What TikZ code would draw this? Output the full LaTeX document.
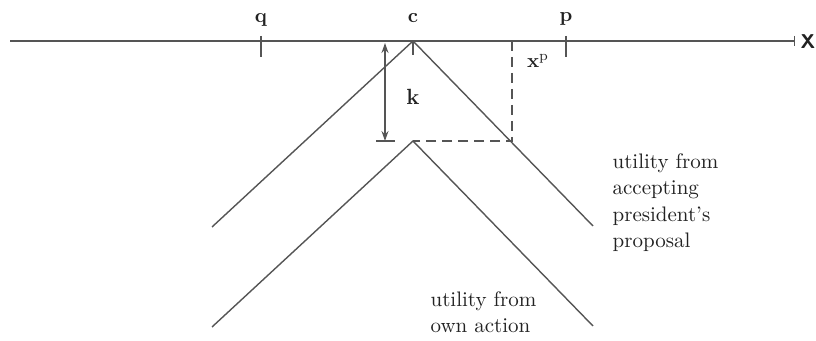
\documentclass[tikz,border=0pt]{standalone}
\usetikzlibrary{arrows.meta, positioning, calc}
\definecolor{cline}{HTML}{555555}
\definecolor{ctext}{HTML}{222222}
\tikzset{
  every picture/.style={line width=0.6pt},
  curve/.style={draw=cline, line width=0.7pt},
  tick/.style={draw=cline, line width=0.7pt},
  guide/.style={draw=cline, dashed, dash pattern=on 5pt off 3pt, line width=0.7pt},
  ptlabel/.style={font=\bfseries\fontsize{10}{12}\selectfont, text=ctext, inner sep=1pt},
  note/.style={font=\fontsize{10.5}{13.2}\selectfont, text=ctext, align=left, inner sep=0pt},
}

\begin{document}
\begin{tikzpicture}[x=0.5pt, y=-0.5pt]
  \useasboundingbox (0,0) rectangle (816,341);
  % policy axis
  \coordinate (xl) at (10,41);
  \coordinate (xr) at (795,41);
  \draw[curve, -{Bar[width=5pt]}] (xl) -- (xr);
  \node[ptlabel, anchor=west, font=\sffamily\bfseries\fontsize{10}{12}\selectfont] (X) at (798,42) {X};
  % ideal points
  \coordinate (q) at (261,41);
  \coordinate (c) at (413,41);
  \coordinate (p) at (566,41);
  \draw[tick] ($(q)+(0,-5)$) -- ($(q)+(0,16)$);
  \draw[tick] (c) -- ($(c)+(0,14)$);
  \draw[tick] ($(p)+(0,-5)$) -- ($(p)+(0,16)$);
  \node[ptlabel] (ql) at (261,20) {q};
  \node[ptlabel] (cl) at (413,18) {c};
  \node[ptlabel] (pl) at (566,19) {p};
  % utility curves
  \coordinate (top) at (413,41);
  \coordinate (low) at (413,141);
  \draw[curve] (212,227) -- (top) -- (593,226);
  \draw[curve] (212,327) -- (low) -- (593,326);
  % x^p construction
  \coordinate (xp) at (512,41);
  \coordinate (xpd) at (512,141);
  \draw[guide] (xp) -- (xpd) -- (low);
  \node[ptlabel] (xpl) at (538,61) {x$^{\mathrm{p}}$};
  % cost k
  \coordinate (ka) at (385,43);
  \coordinate (kb) at (385,141);
  \draw[tick, {Stealth[length=5pt,width=3.5pt]}-{Stealth[length=5pt,width=3.5pt]}] (ka) -- (kb);
  \draw[tick] (376,141) -- (395,141);
  \node[ptlabel, font=\bfseries\fontsize{11}{13}\selectfont] (kl) at (413,97) {k};
  % curve labels
  \node[note, anchor=north west] (accept) at (612,153) {utility from\\accepting\\president's\\proposal};
  \node[note, anchor=north west] (own) at (430,291) {utility from\\own action};
\end{tikzpicture}
\end{document}
